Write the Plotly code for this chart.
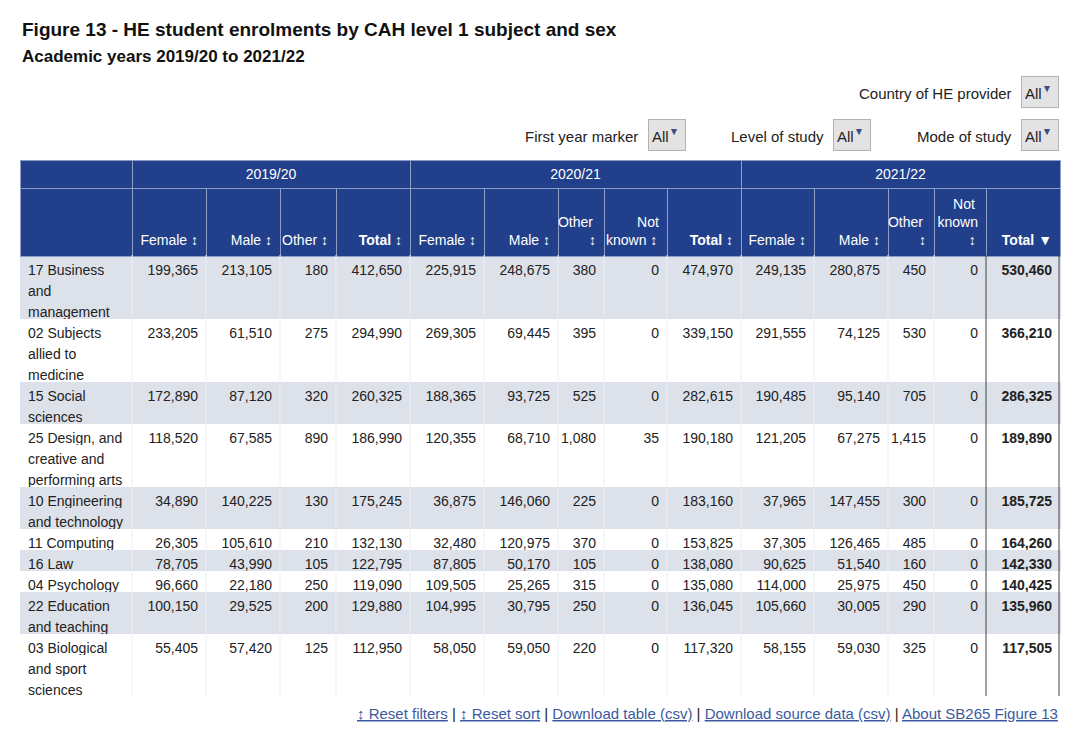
import plotly.graph_objects as go

# ---------------- data ----------------
subjects = ["17 Business<br>and<br>management", "02 Subjects<br>allied to<br>medicine",
            "15 Social<br>sciences", "25 Design, and<br>creative and<br>performing arts",
            "10 Engineering<br>and technology", "11 Computing", "16 Law", "04 Psychology",
            "22 Education<br>and teaching", "03 Biological<br>and sport<br>sciences"]

years = ["2019/20", "2020/21", "2021/22"]

female_1920 = [199365, 233205, 172890, 118520, 34890, 26305, 78705, 96660, 100150, 55405]
male_1920 = [213105, 61510, 87120, 67585, 140225, 105610, 43990, 22180, 29525, 57420]
other_1920 = [180, 275, 320, 890, 130, 210, 105, 250, 200, 125]
total_1920 = [412650, 294990, 260325, 186990, 175245, 132130, 122795, 119090, 129880, 112950]

female_2021 = [225915, 269305, 188365, 120355, 36875, 32480, 87805, 109505, 104995, 58050]
male_2021 = [248675, 69445, 93725, 68710, 146060, 120975, 50170, 25265, 30795, 59050]
other_2021 = [380, 395, 525, 1080, 225, 370, 105, 315, 250, 220]
notknown_2021 = [0, 0, 0, 35, 0, 0, 0, 0, 0, 0]
total_2021 = [474970, 339150, 282615, 190180, 183160, 153825, 138080, 135080, 136045, 117320]

female_2122 = [249135, 291555, 190485, 121205, 37965, 37305, 90625, 114000, 105660, 58155]
male_2122 = [280875, 74125, 95140, 67275, 147455, 126465, 51540, 25975, 30005, 59030]
other_2122 = [450, 530, 705, 1415, 300, 485, 160, 450, 290, 325]
notknown_2122 = [0, 0, 0, 0, 0, 0, 0, 0, 0, 0]
total_2122 = [530460, 366210, 286325, 189890, 185725, 164260, 142330, 140425, 135960, 117505]

col_headers = ["", "Female ↕", "Male ↕", "Other ↕", "<b>Total</b> ↕",
               "Female ↕", "Male ↕", "Other<br>↕", "Not<br>known ↕", "<b>Total</b> ↕",
               "Female ↕", "Male ↕", "Other<br>↕", "Not<br>known<br>↕", "<b>Total</b> ▼"]

filters_row1 = ["Country of HE provider"]
filters_row2 = ["First year marker", "Level of study", "Mode of study"]
footer_links = ["↕ Reset filters", "↕ Reset sort", "Download table (csv)",
                "Download source data (csv)", "About SB265 Figure 13"]

# ---------------- layout constants ----------------
W, H = 1080, 741
FONT = "Liberation Sans, Arial, Helvetica, sans-serif"
HEAD_BLUE = "#213f8b"
HEAD_LINE = "#8b9cc6"
ROW_GREY = "#dde1ea"
GRID = "#eceef2"
TXT = "#222222"
LINK = "#3b5aa0"
col_w = [112, 74, 74, 56, 74, 74, 74, 46, 63, 74, 73, 74, 46, 52, 74]
year_w = [112, 278, 331, 319]
TL, TR = 20, 1060
YEAR_TOP, YEAR_BOT, HEAD_BOT, BODY_BOT = 160, 188, 255, 710
LINE_H = 21          # height of one text line in the body
HEAD_H = HEAD_BOT - YEAR_BOT
NBSP = "\u00a0"


def px_x(p):
    return p / W


def px_y(p):
    return 1 - p / H


def pad_lines(s, n=3):
    k = s.count("<br>") + 1
    return "<br>".join([NBSP] * (n - k) + [s])


# narrow header cells overflow (left-aligned by plotly); nudge short lines right
def nudge(s):
    lines = s.split("<br>")
    if len(lines) == 1:
        return s
    widest = max(len(l) for l in lines)
    return "<br>".join(NBSP * int(round((widest - len(l)) * 1.9)) + l for l in lines)


num_cols = [female_1920, male_1920, other_1920, total_1920,
            female_2021, male_2021, other_2021, notknown_2021, total_2021,
            female_2122, male_2122, other_2122, notknown_2122, total_2122]
ncol = len(num_cols) + 1

# expand each subject row into one table line per text line of its label
label_col = []
value_cols = [[] for _ in num_cols]
fill = []
for i, subj in enumerate(subjects):
    parts = subj.split("<br>")
    for j, part in enumerate(parts):
        label_col.append(part.replace(" ", NBSP))
        fill.append(ROW_GREY if i % 2 == 0 else "white")
        for k, col in enumerate(num_cols):
            value_cols[k].append(f"{col[i]:,}" if j == 0 else "")
n_lines = len(label_col)
body_end = HEAD_BOT + n_lines * LINE_H

fig = go.Figure()

# year band (header table; its single dummy row is clipped by the domain)
fig.add_trace(go.Table(
    domain=dict(x=[px_x(TL), px_x(TR)], y=[px_y(YEAR_BOT) - 0.002, px_y(YEAR_TOP)]),
    columnwidth=year_w,
    header=dict(values=[""] + years, fill_color=HEAD_BLUE, height=YEAR_BOT - YEAR_TOP,
                line=dict(color=HEAD_LINE, width=1), align="center",
                font=dict(family=FONT, size=14, color="white")),
    cells=dict(values=[[""] for _ in range(4)], height=20, fill_color=HEAD_BLUE,
               line=dict(color=HEAD_BLUE, width=1)),
))

# main table
fig.add_trace(go.Table(
    domain=dict(x=[px_x(TL), px_x(TR)], y=[px_y(BODY_BOT), px_y(YEAR_BOT)]),
    columnwidth=col_w,
    header=dict(values=[pad_lines(nudge(h)) for h in col_headers], fill_color=HEAD_BLUE,
                height=HEAD_H, line=dict(color=HEAD_LINE, width=1),
                align=["left"] + ["right"] * (ncol - 1),
                font=dict(family=FONT, size=14, color="white")),
    cells=dict(values=[label_col] + value_cols, height=LINE_H,
               fill_color=[fill] * ncol,
               line=dict(color=[fill] * ncol, width=1),
               align=["left"] + ["right"] * (ncol - 1),
               font=dict(family=FONT, size=14, color=TXT,
                         weight=[400] * (ncol - 1) + [700])),
))

# light column separators in the body
edges = []
acc = TL
for w in col_w[:-1]:
    acc += w
    edges.append(acc)
for xp in edges[:-1]:
    fig.add_shape(type="line", xref="paper", yref="paper",
                  x0=px_x(xp), x1=px_x(xp), y0=px_y(body_end), y1=px_y(HEAD_BOT),
                  line=dict(color=GRID, width=1), layer="above")
# dark borders around the sorted column
for xp in (edges[-1], TR - 1):
    fig.add_shape(type="line", xref="paper", yref="paper",
                  x0=px_x(xp), x1=px_x(xp), y0=px_y(body_end), y1=px_y(HEAD_BOT),
                  line=dict(color="#444444", width=1), layer="above")

ann = []
ann.append(dict(text="<b>Figure 13 - HE student enrolments by CAH level 1 subject and sex</b>",
                x=px_x(20), y=px_y(29), xanchor="left", yanchor="middle",
                font=dict(family=FONT, size=19, color="#111")))
ann.append(dict(text="<b>Academic years 2019/20 to 2021/22</b>",
                x=px_x(20), y=px_y(57), xanchor="left", yanchor="middle",
                font=dict(family=FONT, size=17, color="#111")))

button_txt = "All<sup><span style='color:#3d4f82'>▼</span></sup>"
filter_pos = [(filters_row1[0], 1014, 1040, 94)] + list(zip(filters_row2, [640, 826, 1014], [667, 852, 1040], [137] * 3))
for label, xr, xb, yc in filter_pos:
    ann.append(dict(text=label, x=px_x(xr), y=px_y(yc), xanchor="right", yanchor="middle",
                    font=dict(family=FONT, size=15, color=TXT)))
    ann.append(dict(text=button_txt, x=px_x(xb), y=px_y(yc - 2), xanchor="center", yanchor="middle",
                    width=30, height=24, borderpad=3, bgcolor="#e3e3e3", bordercolor="#b3b3b3",
                    borderwidth=1, align="left",
                    font=dict(family=FONT, size=15, color=TXT)))

footer = " | ".join(f"<span style='color:{LINK}'><u>{t}</u></span>" for t in footer_links)
ann.append(dict(text=footer, x=px_x(1060), y=px_y(713), xanchor="right", yanchor="middle",
                font=dict(family=FONT, size=15, color=TXT)))

for a in ann:
    a.update(xref="paper", yref="paper", showarrow=False)

fig.update_layout(width=W, height=H, margin=dict(l=0, r=0, t=0, b=0),
                  paper_bgcolor="white", plot_bgcolor="white", annotations=ann,
                  font=dict(family=FONT))
fig.write_html("out.html", config={"displayModeBar": False},
               post_script="document.body.style.margin='0';")
